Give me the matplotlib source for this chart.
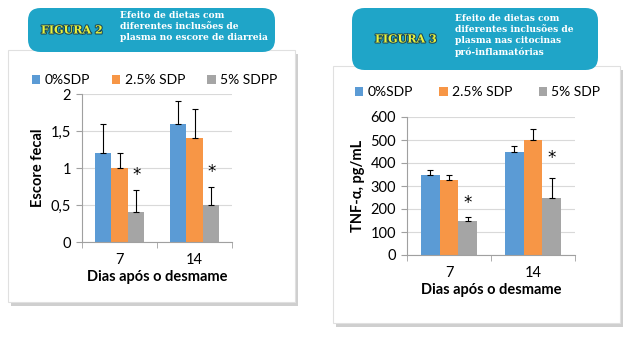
import matplotlib
matplotlib.use("Agg")
import matplotlib.pyplot as plt
from matplotlib.patches import FancyBboxPatch, Rectangle
import matplotlib.patheffects as pe
import numpy as np

# Dados
dias = ["7", "14"]

series_fig2 = ["0%SDP", "2.5% SDP", "5% SDPP"]
escore_0 = [1.2, 1.6]
escore_25 = [1.0, 1.4]
escore_5 = [0.4, 0.5]
erro_esc_0 = [0.4, 0.3]
erro_esc_25 = [0.2, 0.4]
erro_esc_5 = [0.3, 0.25]
asterisco_fig2 = [0.9, 0.95]

series_fig3 = ["0%SDP", "2.5% SDP", "5% SDP"]
tnf_0 = [350, 450]
tnf_25 = [325, 500]
tnf_5 = [150, 250]
erro_tnf_0 = [20, 25]
erro_tnf_25 = [22, 50]
erro_tnf_5 = [15, 85]
asterisco_fig3 = [225, 420]

cores = ["#5B9BD5", "#F79646", "#A5A5A5"]
teal = "#1FA5C8"
W, H = 628, 343

fig = plt.figure(figsize=(W / 100, H / 100), dpi=100)
fig.patch.set_facecolor("white")
plt.rcParams["font.family"] = ["Lato", "DejaVu Sans"]


def fr(x0, y0, x1, y1):
    # caixa em pixels (topo-esquerda) -> fração da figura [l, b, w, h]
    return [x0 / W, 1 - y1 / H, (x1 - x0) / W, (y1 - y0) / H]


def caixa(x0, y0, x1, y1):
    l, b, w, h = fr(x0, y0, x1, y1)
    sombra = Rectangle((l + 3 / W, b - 4 / H), w, h, transform=fig.transFigure,
                       facecolor="#cfcfcf", edgecolor="none", zorder=0)
    fig.add_artist(sombra)
    fundo = Rectangle((l, b), w, h, transform=fig.transFigure,
                      facecolor="white", edgecolor="#e0e0e0", lw=0.8, zorder=0.5)
    fig.add_artist(fundo)


def cabecalho(x0, y0, x1, y1, figura, linhas, fx, tx, ty):
    l, b, w, h = fr(x0, y0, x1, y1)
    p = FancyBboxPatch((l, b), w, h, boxstyle="round,pad=0,rounding_size=0.02",
                       transform=fig.transFigure, facecolor=teal, edgecolor="none",
                       zorder=1, mutation_aspect=W / H)
    fig.add_artist(p)
    fig.text(fx / W, 1 - (y0 + y1) / 2 / H, figura, color="#E9F23C", fontsize=8,
             fontweight="bold", family="DejaVu Serif", va="center", ha="left",
             zorder=2, path_effects=[pe.withStroke(linewidth=1.5, foreground="#1a4a5a")])
    fig.text(tx / W, 1 - ty / H, "\n".join(linhas), color="white", fontsize=6.6,
             fontweight="bold", family="DejaVu Serif", va="top", ha="left",
             linespacing=1.3, zorder=2)


def grafico(rect, valores, erros, series, ylim, yticks, yticklabels, ylabel, asteriscos):
    ax = fig.add_axes(rect)
    ax.set_zorder(3)
    ax.patch.set_alpha(0)
    x = np.arange(len(dias))
    larg = 0.222
    for i, (v, e) in enumerate(zip(valores, erros)):
        ax.bar(x + (i - 1) * larg, v, larg, color=cores[i], label=series[i], zorder=2,
               yerr=[np.zeros(len(e)), e],
               error_kw=dict(ecolor="black", elinewidth=0.8, capsize=2, capthick=0.8))
    for xi, a in zip(x, asteriscos):
        ax.text(xi + larg, a, "*", ha="center", va="center", fontsize=12,
                family="DejaVu Sans", zorder=3)
    ax.set_xlim(-0.5, 1.5)
    ax.set_ylim(*ylim)
    ax.set_yticks(yticks)
    ax.set_yticklabels(yticklabels)
    ax.set_xticks(x)
    ax.set_xticklabels(dias)
    ax.set_xticks([-0.5, 0.5, 1.5], minor=True)
    ax.tick_params(axis="x", which="major", length=0, labelsize=10.5, pad=8)
    ax.tick_params(axis="x", which="minor", length=4, color="#a0a0a0")
    ax.tick_params(axis="y", length=4, color="#a0a0a0", labelsize=10.5, pad=4)
    ax.yaxis.grid(True, color="#d9d9d9", lw=0.8, zorder=0)
    for s in ["top", "right"]:
        ax.spines[s].set_visible(False)
    ax.spines["left"].set_color("#a0a0a0")
    ax.spines["bottom"].set_color("#a0a0a0")
    ax.set_xlabel("Dias após o desmame", fontweight="bold", fontsize=10.5, labelpad=2)
    ax.set_ylabel(ylabel, fontweight="bold", fontsize=10.5, labelpad=4)
    return ax


# Figura 2
caixa(8, 50, 295, 302)
cabecalho(28, 8, 275, 52, "FIGURA 2",
          ["Efeito de dietas com", "diferentes inclusões de", "plasma no escore de diarreia"],
          41, 120, 11)
ax1 = grafico(fr(82, 94, 232, 242), [escore_0, escore_25, escore_5],
              [erro_esc_0, erro_esc_25, erro_esc_5], series_fig2,
              (0, 2), [0, 0.5, 1, 1.5, 2], ["0", "0,5", "1", "1,5", "2"],
              "Escore fecal", asterisco_fig2)
ax1.legend(loc="lower left", bbox_to_anchor=(fr(32, 68, 290, 86)[0], fr(32, 68, 290, 86)[1]),
           bbox_transform=fig.transFigure, ncol=3, frameon=False, fontsize=10,
           handlelength=0.6, handleheight=0.6, handletextpad=0.3, columnspacing=1.6,
           borderaxespad=0, borderpad=0)

# Figura 3
caixa(333, 66, 620, 323)
cabecalho(352, 8, 598, 70, "FIGURA 3",
          ["Efeito de dietas com", "diferentes inclusões de", "plasma nas citocinas", "pró-inflamatórias"],
          375, 455, 14)
ax2 = grafico(fr(407, 117, 575, 255), [tnf_0, tnf_25, tnf_5],
              [erro_tnf_0, erro_tnf_25, erro_tnf_5], series_fig3,
              (0, 600), [0, 100, 200, 300, 400, 500, 600],
              ["0", "100", "200", "300", "400", "500", "600"],
              "TNF-α, pg/mL", asterisco_fig3)
ax2.legend(loc="lower left", bbox_to_anchor=(fr(355, 82, 620, 98)[0], fr(355, 82, 620, 98)[1]),
           bbox_transform=fig.transFigure, ncol=3, frameon=False, fontsize=10,
           handlelength=0.6, handleheight=0.6, handletextpad=0.3, columnspacing=1.9,
           borderaxespad=0, borderpad=0)

fig.savefig("out.png", dpi=100)
